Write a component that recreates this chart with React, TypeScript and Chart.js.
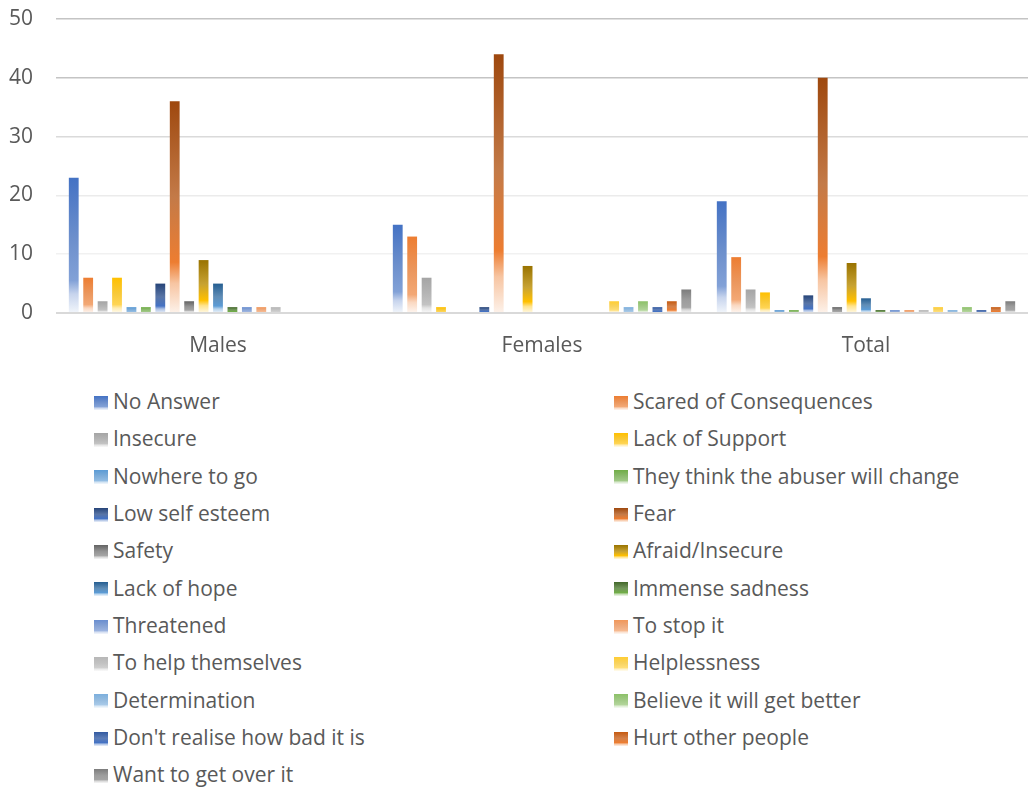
import React, { useEffect, useRef } from "react";
import { Chart, registerables } from "chart.js";

Chart.register(...registerables);

const categories = ["Males", "Females", "Total"];

const seriesNames = [
  "No Answer",
  "Scared of Consequences",
  "Insecure",
  "Lack of Support",
  "Nowhere to go",
  "They think the abuser will change",
  "Low self esteem",
  "Fear",
  "Safety",
  "Afraid/Insecure",
  "Lack of hope",
  "Immense sadness",
  "Threatened",
  "To stop it",
  "To help themselves",
  "Helplessness",
  "Determination",
  "Believe it will get better",
  "Don't realise how bad it is",
  "Hurt other people",
  "Want to get over it",
];

const malesValues = [23, 6, 2, 6, 1, 1, 5, 36, 2, 9, 5, 1, 1, 1, 1, 0, 0, 0, 0, 0, 0];
const femalesValues = [15, 13, 6, 1, 0, 0, 1, 44, 0, 8, 0, 0, 0, 0, 0, 2, 1, 2, 1, 2, 4];
const totalValues = [19, 9.5, 4, 3.5, 0.5, 0.5, 3, 40, 1, 8.5, 2.5, 0.5, 0.5, 0.5, 0.5, 1, 0.5, 1, 0.5, 1, 2];

const topColors = [
  "#4472C4", "#ED7D31", "#A5A5A5", "#FFC000", "#5B9BD5", "#70AD47",
  "#264478", "#9E480E", "#636363", "#997300", "#255E91", "#43682B",
  "#698ED0", "#F1975A", "#B7B7B7", "#FFCD33", "#7CAFDD", "#8CC168",
  "#335AA1", "#C55A11", "#7C7C7C",
];

// lower (mid) colour of each bar's gradient; null = lighter tint of top colour
const midColors: (string | null)[] = [
  null, null, null, null, null, null,
  "#4472C4", "#ED7D31", "#A5A5A5", "#FFC000", "#5B9BD5", "#70AD47",
  null, null, null, null, null, null,
  "#4472C4", "#ED7D31", "#A5A5A5",
];

const yTickValues = [0, 10, 20, 30, 40, 50];

const FONT = "'Open Sans', sans-serif";
const TEXT = "#595959";
const FONT_SIZE = 21;

function hexToRgb(h: string): number[] {
  const s = h.replace("#", "");
  return [0, 2, 4].map((k) => parseInt(s.slice(k, k + 2), 16));
}
function mix(a: number[], b: number[], t: number): number[] {
  return a.map((v, k) => v + (b[k] - v) * t);
}
function rgb(c: number[]): string {
  return `rgb(${c.map((v) => Math.round(v)).join(",")})`;
}
const WHITE = [255, 255, 255];
const GREY = [200, 200, 200];

function stopsFor(i: number): [number, string][] {
  const top = hexToRgb(topColors[i]);
  const mid = midColors[i] ? hexToRgb(midColors[i] as string) : mix(top, WHITE, 0.33);
  const middle = mix(mix(top, mid, 0.45), GREY, midColors[i] ? 0.25 : 0.12);
  return [
    [0, rgb(top)],
    [0.45, rgb(middle)],
    [0.76, rgb(mid)],
    [0.86, rgb(mix(mid, WHITE, 0.55))],
    [1, rgb(mix(mid, WHITE, 0.9))],
  ];
}

function cssGradient(i: number): string {
  return `linear-gradient(to bottom, ${stopsFor(i)
    .map(([o, c]) => `${c} ${o * 100}%`)
    .join(", ")})`;
}

function gridColor(v: number): string {
  if (v === 0) return "#D9D9D9";
  if (v >= 40) return "#C4C4C4";
  if (v === 30) return "#DADADA";
  if (v === 20) return "#EBEBEB";
  return "#F1F1F1";
}

export default function App() {
  const ref = useRef<HTMLCanvasElement>(null);

  useEffect(() => {
    document.body.style.margin = "0";
    const canvas = ref.current;
    if (!canvas) return;

    const datasets = seriesNames.map((name, i) => ({
      label: name,
      data: [malesValues[i], femalesValues[i], totalValues[i]],
      backgroundColor: (ctx: any) => {
        const chart = ctx.chart;
        const y = chart.scales && chart.scales.y;
        if (ctx.type !== "data" || !y) return topColors[i];
        const v = ctx.raw as number;
        const yTop = y.getPixelForValue(v);
        const yBot = y.getPixelForValue(0);
        if (!isFinite(yTop) || !isFinite(yBot) || yBot - yTop < 0.5) return topColors[i];
        const g = chart.ctx.createLinearGradient(0, yTop, 0, yBot);
        for (const [o, c] of stopsFor(i)) g.addColorStop(o, c);
        return g;
      },
      borderWidth: 0,
      categoryPercentage: 0.935,
      barPercentage: 0.68,
    }));

    const chart = new Chart(canvas, {
      type: "bar",
      data: { labels: categories, datasets },
      options: {
        responsive: false,
        animation: false,
        layout: { padding: { top: 19, right: 0, bottom: 0, left: 0 } },
        plugins: { legend: { display: false }, tooltip: { enabled: false } },
        scales: {
          x: {
            grid: { display: false, drawTicks: false },
            border: { display: false },
            ticks: { color: TEXT, font: { size: FONT_SIZE, family: FONT }, padding: 20 },
            afterFit: (s: any) => {
              s.height = 57;
            },
          },
          y: {
            min: yTickValues[0],
            max: yTickValues[yTickValues.length - 1],
            afterBuildTicks: (s: any) => {
              s.ticks = yTickValues.map((v) => ({ value: v }));
            },
            ticks: { color: TEXT, font: { size: FONT_SIZE, family: FONT }, padding: 0 },
            grid: {
              drawTicks: true,
              tickLength: 23,
              tickColor: "rgba(0,0,0,0)",
              color: (c: any) => gridColor(c.tick ? c.tick.value : 0),
              lineWidth: (c: any) => (c.tick && c.tick.value === 0 ? 2 : 1.5),
            },
            border: { display: false },
            afterFit: (s: any) => {
              s.width = 56;
            },
          },
        },
      },
    } as any);

    if ((document as any).fonts && (document as any).fonts.load) {
      (document as any).fonts.load(`${FONT_SIZE}px 'Open Sans'`).then(() => {
        try {
          chart.update();
        } catch (e) {}
      });
    }

    return () => chart.destroy();
  }, []);

  const rowBaseline = (k: number) => 409.5 + 37.35 * k;

  return (
    <div style={{ position: "relative", width: 1028, height: 789, background: "#fff", overflow: "hidden" }}>
      <canvas ref={ref} width={1028} height={370} style={{ position: "absolute", left: 0, top: 0 }} />
      {seriesNames.map((name, i) => {
        const col = i % 2;
        const row = Math.floor(i / 2);
        const base = rowBaseline(row);
        const swatchLeft = col === 0 ? 94 : 614;
        return (
          <React.Fragment key={name}>
            <div
              style={{
                position: "absolute",
                left: swatchLeft,
                top: base - 14,
                width: 14,
                height: 14,
                background: cssGradient(i),
              }}
            />
            <div
              style={{
                position: "absolute",
                left: swatchLeft + 19,
                top: base - 20.6,
                height: 25,
                lineHeight: "25px",
                fontFamily: FONT,
                fontSize: FONT_SIZE,
                color: TEXT,
                whiteSpace: "nowrap",
              }}
            >
              {name}
            </div>
          </React.Fragment>
        );
      })}
    </div>
  );
}
